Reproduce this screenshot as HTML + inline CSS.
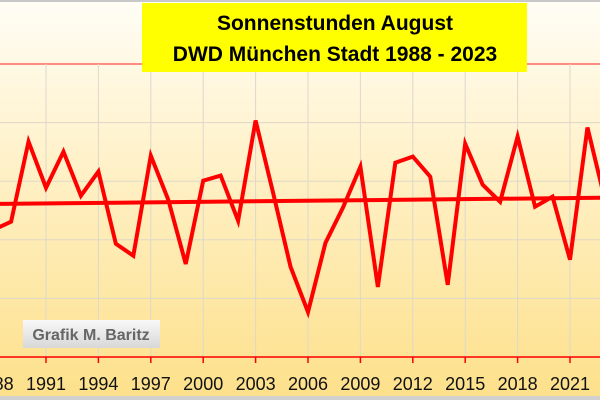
<!DOCTYPE html>
<html><head><meta charset="utf-8"><style>
body{margin:0;width:600px;height:400px;overflow:hidden;font-family:"Liberation Sans",sans-serif}
svg{display:block}
</style></head><body>
<svg id="chart" width="600" height="400">
<defs>
<linearGradient id="bg" x1="0" y1="0" x2="0" y2="1">
<stop offset="0" stop-color="#fffdf6"/><stop offset="0.45" stop-color="#fff0c4"/><stop offset="1" stop-color="#fde08a"/>
</linearGradient>
<linearGradient id="wm" x1="0" y1="0" x2="0" y2="1">
<stop offset="0" stop-color="#f8f8f8"/><stop offset="1" stop-color="#d8d8d8"/>
</linearGradient>
</defs>
<rect x="0" y="0" width="600" height="400" fill="url(#bg)"/>
<rect x="0" y="0" width="600" height="2" fill="#c8c8c8"/>
<rect x="0" y="396" width="600" height="4" fill="#d0d0d0"/>
<g id="grid"></g>
<g id="marks"></g>
<rect x="142" y="3" width="385" height="69" fill="#ffff00"/>
<text x="335" y="30" text-anchor="middle" font-size="21" font-weight="bold">Sonnenstunden August</text>
<text x="335" y="61" text-anchor="middle" font-size="21" font-weight="bold">DWD München Stadt 1988 - 2023</text>
<rect x="23" y="320" width="137" height="28" fill="url(#wm)"/>
<text x="91" y="340" text-anchor="middle" font-size="16" font-weight="bold" fill="#666">Grafik M. Baritz</text>
</svg>
<script>
const years=[1988,1989,1990,1991,1992,1993,1994,1995,1996,1997,1998,1999,2000,2001,2002,2003,2004,2005,2006,2007,2008,2009,2010,2011,2012,2013,2014,2015,2016,2017,2018,2019,2020,2021,2022,2023];
const sunshine=[179.3,182.7,216.9,197.2,212.6,193.8,204.1,173.3,168.2,210.9,192.1,164.7,200.2,202.4,183.1,225.9,195.1,163.5,144.2,173.7,188.7,206.2,154.9,207.9,210.5,201.9,155.8,216.0,198.5,191.2,219.0,189.1,193.4,166.5,222.9,192.1];
const yTicks=[125,150,175,200,225,250];
const xLabels=[1988,1991,1994,1997,2000,2003,2006,2009,2012,2015,2018,2021];
const NS="http://www.w3.org/2000/svg";
function x(yr){return 46+(yr-1991)*(524/30);}
function y(v){return 357-(v-125)*(58.6/25);}
const grid=document.getElementById('grid'),marks=document.getElementById('marks');
function mk(tag,attrs,parent){const e=document.createElementNS(NS,tag);for(const k in attrs)e.setAttribute(k,attrs[k]);parent.appendChild(e);return e;}
yTicks.forEach(t=>{
  if(t===125)return;
  const l=mk('line',{x1:0,x2:600,y1:y(t),y2:y(t),stroke:t===250?'#ff2020':'#ddd8c8','stroke-width':1},grid);
  
  
});
xLabels.forEach(yr=>{
  const g=mk('line',{x1:x(yr),x2:x(yr),y1:y(250),y2:y(125),stroke:'#dcd8cc','stroke-width':1},grid);
  
  
  const t=mk('line',{x1:x(yr),x2:x(yr),y1:y(125),y2:y(125)+6,stroke:'#ff0000','stroke-width':1.5},grid);
  
  
  const tx=mk('text',{x:x(yr),y:390,'text-anchor':'middle','font-size':18,fill:'#111'},grid);
  tx.textContent=yr;
  
  
});
const ax=mk('line',{x1:0,x2:600,y1:y(125),y2:y(125),stroke:'#ff0000','stroke-width':1.5},grid);


const pl=mk('polyline',{points:years.map((yr,i)=>x(yr)+','+y(sunshine[i])).join(' '),fill:'none',stroke:'#ff0000','stroke-width':4,'stroke-linejoin':'miter'},marks);


const n=years.length,mx=years.reduce((a,b)=>a+b)/n,my=sunshine.reduce((a,b)=>a+b)/n;
let sxy=0,sxx=0;years.forEach((yr,i)=>{sxy+=(yr-mx)*(sunshine[i]-my);sxx+=(yr-mx)*(yr-mx);});
const slope=sxy/sxx;
const tl=mk('line',{x1:x(1988),y1:y(my+slope*(1988-mx)),x2:x(2023),y2:y(my+slope*(2023-mx)),stroke:'#ff0000','stroke-width':4},marks);


</script>
</body></html>
